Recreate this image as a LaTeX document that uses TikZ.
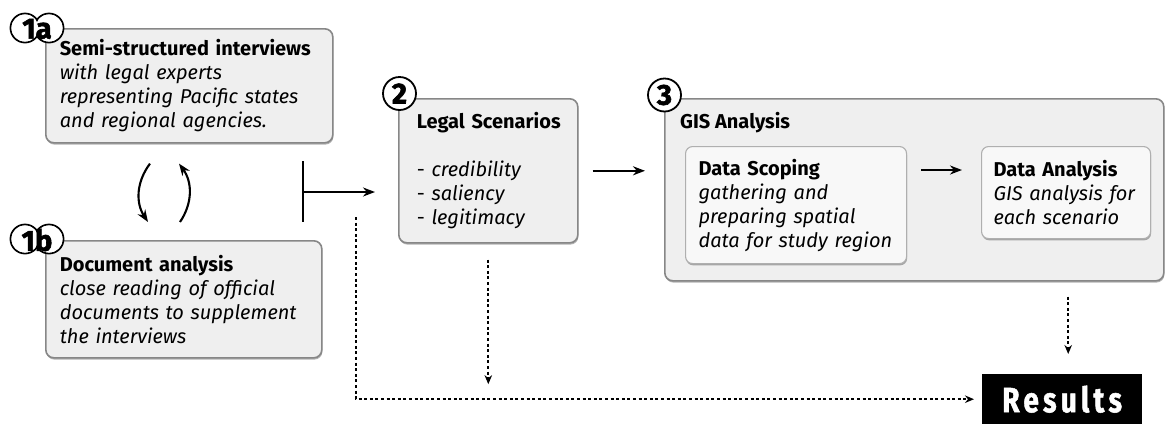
\documentclass[tikz,border=0pt]{standalone}
\usepackage{fontspec}
\setmainfont{Fira Sans}
\usetikzlibrary{arrows.meta,shadows}

\newcommand{\boxfont}{\fontsize{20}{24}\selectfont}
\newcommand{\badgefont}{\fontsize{29}{29}\selectfont\bfseries\addfontfeature{FakeBold=2}}

\definecolor{boxfill}{RGB}{239,239,239}
\definecolor{boxline}{RGB}{135,135,135}
\definecolor{subfill}{RGB}{248,248,248}
\definecolor{subline}{RGB}{175,175,175}

\tikzset{
  stagebox/.style={draw=boxline, line width=1.6pt, fill=boxfill, rounded corners=8pt,
    anchor=north west, inner xsep=14pt, inner ysep=0pt, align=left, font=\boxfont,
    drop shadow={shadow xshift=0.6pt, shadow yshift=-1.8pt, fill=black, opacity=0.3}},
  subbox/.style={stagebox, draw=subline, fill=subfill, line width=1.1pt, rounded corners=7pt,
    drop shadow={shadow xshift=0pt, shadow yshift=0pt, opacity=0}},
  badge/.style={font=\badgefont, inner sep=0pt},
  flow/.style={-{Stealth[length=12pt,width=9pt]}, line width=2.5pt},
  feed/.style={-{Stealth[length=9pt,width=7.5pt]}, line width=2.1pt, dash pattern=on 3pt off 2.6pt},
}

\begin{document}
\begin{tikzpicture}[x=1pt, y=-1pt]
  \useasboundingbox (0,0) rectangle (1166,424);

  % step 1: interviews and documents
  \node[stagebox, text width=259pt, minimum height=114pt] (intv) at (45,28)
    {\textbf{Semi-structured interviews}\\ \textit{with legal experts}\\
     \textit{representing Pacific states}\\ \textit{and regional agencies.}};
  \node[stagebox, text width=248pt, minimum height=117pt] (docs) at (45,240)
    {\textbf{Document analysis}\\ \textit{close reading of official}\\
     \textit{documents to supplement}\\ \textit{the interviews}};

  % step 2
  \node[stagebox, inner xsep=18pt, text width=143pt, minimum height=144pt] (scen) at (398,98)
    {\mbox{\textbf{Legal Scenarios}}\\[24pt] - \textit{credibility}\\ - \textit{saliency}\\ - \textit{legitimacy}};

  % step 3
  \node[stagebox, text width=471pt, minimum height=182pt] (gis) at (664,98) {};
  \node[anchor=base west, inner sep=0pt, font=\boxfont\bfseries] (gistitle) at (680,128) {GIS Analysis};
  \node[subbox, inner xsep=13pt, text width=195pt, minimum height=117pt] (scope) at (685,146)
    {\textbf{Data Scoping}\\ \textit{gathering and}\\ \textit{preparing spatial}\\ \textit{data for study region}};
  \node[subbox, inner xsep=12pt, text width=145pt, minimum height=92pt] (anal) at (981,146)
    {\textbf{Data Analysis}\\ \textit{GIS analysis for}\\ \textit{each scenario}};

  % results
  \node[fill=black, text=white, anchor=north west, minimum width=160pt, minimum height=50pt, inner sep=0pt,
    font=\fontsize{35}{35}\selectfont\bfseries\addfontfeature{LetterSpace=15,FakeBold=1.5}] (res) at (982,374)
    {\scalebox{0.8}[1]{Results}};

  % badges
  \draw[line width=1.8pt, fill=white] (25,28) circle (14.5) (49,28) circle (14.5);
  \fill[white] (25,28) circle (13.5) (49,28) circle (13.5);
  \node[badge] (b1a) at (37,29) {1a};
  \draw[line width=1.8pt, fill=white] (25,239) circle (14.5) (49,239) circle (14.5);
  \fill[white] (25,239) circle (13.5) (49,239) circle (13.5);
  \node[badge] (b1b) at (37,240) {1b};
  \node[badge, circle, draw, line width=1.8pt, fill=white, minimum size=33pt] (b2) at (399.5,93.5) {2};
  \node[badge, circle, draw, line width=1.8pt, fill=white, minimum size=33pt] (b3) at (664.5,95) {3};

  % connectors
  \draw[flow, line width=2.1pt] ([xshift=105pt,yshift=-20pt]intv.south west)
    to[bend right=35] ([xshift=103pt,yshift=18pt]docs.north west);
  \draw[flow, line width=2.1pt] ([xshift=135pt,yshift=18pt]docs.north west)
    to[bend right=35] ([xshift=134pt,yshift=-20pt]intv.south west);

  \coordinate (merge) at (303,192);
  \draw[line width=2.5pt] ([yshift=31pt]merge) -- ([yshift=-30pt]merge);
  \draw[flow, shorten >=23pt] (merge) -- (merge -| scen.west);
  \draw[flow, shorten <=14pt, shorten >=19pt] (scen.east) -- (scen.east -| gis.west);
  \draw[flow, shorten <=14pt, shorten >=19pt] ([yshift=-24pt]scope.north east) -- ([yshift=-24pt]anal.north west);

  \coordinate (tap) at (356,217);
  \draw[feed, shorten >=8pt] (tap) |- (res.west);
  \draw[feed, shorten <=16pt, shorten >=15pt] (scen.south) -- (scen.south |- res.west);
  \coordinate (resin) at ([xshift=6pt]res.north);
  \draw[feed, shorten <=15pt, shorten >=20pt] (resin |- gis.south) -- (resin);
\end{tikzpicture}
\end{document}
